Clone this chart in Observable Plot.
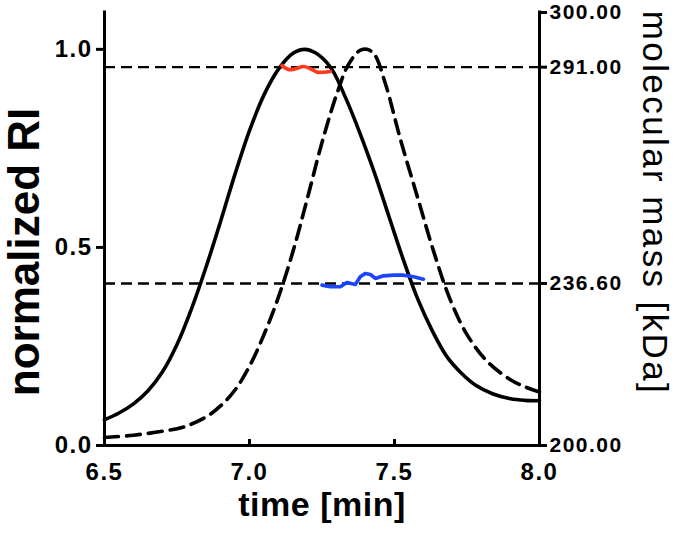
<!DOCTYPE html>
<html>
<head>
<meta charset="utf-8">
<script src="https://cdn.jsdelivr.net/npm/d3@7"></script>
<script src="https://cdn.jsdelivr.net/npm/@observablehq/plot@0.6"></script>
<style>
  html, body { margin: 0; padding: 0; background: #fff; }
  svg { font-family: "Liberation Sans", Arial, Helvetica, sans-serif; }
</style>
</head>
<body>
<div id="chart"></div>
<script>
// time [min] and normalized RI of the solid trace
const solidTime = [6.50, 6.55, 6.60, 6.65, 6.70, 6.75, 6.80, 6.85, 6.90, 6.95, 7.00, 7.05, 7.10, 7.15, 7.19, 7.23, 7.28, 7.33, 7.38, 7.43, 7.48, 7.53, 7.58, 7.63, 7.68, 7.73, 7.78, 7.84, 7.90, 7.95, 8.00];
const solidRI   = [0.065, 0.082, 0.105, 0.138, 0.186, 0.255, 0.345, 0.45, 0.565, 0.685, 0.795, 0.885, 0.95, 0.99, 1.0, 0.99, 0.954, 0.88, 0.79, 0.69, 0.58, 0.47, 0.37, 0.29, 0.225, 0.183, 0.152, 0.13, 0.118, 0.114, 0.113];

// time [min] and normalized RI of the dashed trace
const dashTime = [6.50, 6.60, 6.70, 6.77, 6.85, 6.90, 6.95, 7.00, 7.05, 7.10, 7.15, 7.20, 7.25, 7.30, 7.34, 7.38, 7.405, 7.43, 7.47, 7.52, 7.58, 7.635, 7.69, 7.75, 7.82, 7.90, 7.95, 8.00];
const dashRI   = [0.02, 0.026, 0.036, 0.046, 0.072, 0.10, 0.14, 0.20, 0.28, 0.375, 0.49, 0.625, 0.765, 0.885, 0.96, 0.997, 1.0, 0.988, 0.91, 0.774, 0.625, 0.49, 0.372, 0.28, 0.212, 0.166, 0.148, 0.135];

// molecular mass [kDa] across the solid peak (red)
const redTime = [7.112, 7.135, 7.158, 7.187, 7.216, 7.233, 7.256, 7.279];
const redMass = [291.27, 290.41, 290.58, 291.11, 290.41, 289.74, 289.74, 289.91];

// molecular mass [kDa] across the dashed peak (blue)
const blueTime = [7.25, 7.279, 7.313, 7.336, 7.365, 7.382, 7.399, 7.417, 7.434, 7.462, 7.497, 7.531, 7.566, 7.60];
const blueMass = [236.23, 235.85, 235.85, 236.85, 236.38, 238.27, 239.11, 238.86, 237.86, 238.52, 238.69, 238.69, 238.27, 237.69];

// reference masses (dashed horizontal lines)
const refMass = [291.0, 236.6];

// axis ticks
const xTicks = [6.5, 7.0, 7.5, 8.0];
const riTicks = [0.0, 0.5, 1.0];
const massTicks = [200, 236.6, 291, 300];
// where each mass tick sits on the normalized-RI axis
const massTickRI = [0, 0.409, 0.955, 1.093];

const massToRI = d3.scaleLinear().domain(massTicks).range(massTickRI);

const solid = solidTime.map((t, i) => ({t, v: solidRI[i]}));
const dashed = dashTime.map((t, i) => ({t, v: dashRI[i]}));
const red = redTime.map((t, i) => ({t, v: massToRI(redMass[i])}));
const blue = blueTime.map((t, i) => ({t, v: massToRI(blueMass[i])}));
const refs = refMass.map(m => massToRI(m));

const font = '"Liberation Sans", Arial, Helvetica, sans-serif';
const xTitle = "time [min]";
const yTitle = "normalized RI";
const y2Title = "molecular mass [kDa]";

const chart = Plot.plot({
  width: 675,
  height: 534,
  marginLeft: 104,
  marginRight: 136,
  marginTop: 12,
  marginBottom: 89,
  style: {fontFamily: font, background: "#fff", overflow: "visible"},
  x: {domain: [6.5, 8.0], axis: null},
  y: {domain: [0, 1.093], axis: null},
  marks: [
    Plot.ruleY(refs, {stroke: "#000", strokeWidth: 2.4, strokeDasharray: "11,6"}),
    Plot.line(solid, {x: "t", y: "v", stroke: "#000", strokeWidth: 3.6, curve: "catmull-rom"}),
    Plot.line(dashed, {x: "t", y: "v", stroke: "#000", strokeWidth: 3.6, strokeDasharray: "14,8", curve: "catmull-rom"}),
    Plot.line(red, {x: "t", y: "v", stroke: "#ff3a1c", strokeWidth: 3.6, curve: "catmull-rom"}),
    Plot.line(blue, {x: "t", y: "v", stroke: "#1b45ff", strokeWidth: 3.6, curve: "linear"}),
    // axis lines
    Plot.ruleY([0], {stroke: "#000", strokeWidth: 3, strokeLinecap: "square"}),
    Plot.ruleX([6.5, 8.0], {stroke: "#000", strokeWidth: 3, strokeLinecap: "square"}),
    // left axis
    Plot.axisY(riTicks, {anchor: "left", tickSize: 8, tickPadding: 4, strokeWidth: 3,
      tickFormat: d3.format(".1f"), fontSize: 24, fontWeight: "bold", label: null}),
    // right axis
    Plot.axisY(massTicks.map(m => massToRI(m)), {anchor: "right", tickSize: 7, tickPadding: 3, strokeWidth: 3,
      tickFormat: d => massTicks[massTickRI.findIndex(r => Math.abs(r - d) < 1e-9)].toFixed(2),
      fontSize: 21, fontWeight: "bold", label: null}),
    // bottom axis (inward ticks)
    Plot.axisX(xTicks, {anchor: "bottom", tickSize: -6, tickPadding: 23, strokeWidth: 3,
      tickFormat: d3.format(".1f"), fontSize: 24, fontWeight: "bold", label: null}),
    // axis titles
    Plot.text([yTitle], {frameAnchor: "left", rotate: -90, dx: -80, dy: 23,
      textAnchor: "middle", lineAnchor: "middle", fontSize: 44, fontWeight: "bold", text: d => d}),
    Plot.text([xTitle], {frameAnchor: "bottom", dy: 60, textAnchor: "middle", lineAnchor: "middle",
      fontSize: 34, fontWeight: "bold", text: d => d}),
    Plot.text([y2Title], {frameAnchor: "right", rotate: 90, dx: 115, dy: -26,
      textAnchor: "middle", lineAnchor: "middle", fontSize: 35, text: d => d})
  ]
});

// wider letter spacing, as in the reference typesetting
chart.querySelectorAll("text").forEach(t => {
  const s = t.textContent;
  if (/^\d+\.\d+$/.test(s)) t.style.letterSpacing = "1.5px";
  else if (s === y2Title) t.style.letterSpacing = "2.4px";
  else if (s === xTitle) t.style.letterSpacing = "0.5px";
});
document.getElementById("chart").appendChild(chart);
</script>
</body>
</html>
